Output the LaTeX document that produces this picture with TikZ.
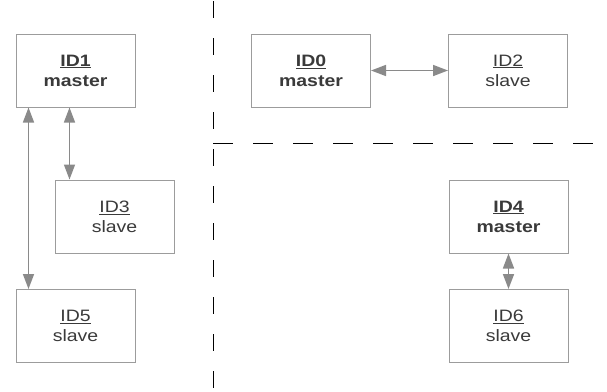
\documentclass[tikz,border=0pt]{standalone}
\usepackage{fontspec}
\setmainfont{Liberation Sans}[FakeStretch=1.18]
\usetikzlibrary{arrows.meta}
\definecolor{boxline}{HTML}{9C9C9C}
\definecolor{arrowgray}{HTML}{8A8A8A}
\definecolor{txt}{HTML}{3A3A3A}
\tikzset{
  unit/.style={draw=boxline, line width=1pt, minimum width=119pt, minimum height=73pt,
    inner sep=0pt, align=center, text=txt, font=\fontsize{16.5}{20}\selectfont},
  link/.style={draw=arrowgray, line width=1.6pt, {Triangle[length=15pt,width=11pt]}-{Triangle[length=15pt,width=11pt]}},
  divider/.style={line width=1pt, draw=black}
}
\begin{document}
\begin{tikzpicture}[x=1pt,y=-1pt]
\useasboundingbox (0,0) rectangle (607,391);
\node[unit] (ID1) at (75.5,70.5) {\textbf{\underline{ID1}}\\\textbf{master}};
\node[unit] (ID3) at (114.5,216.5) {\underline{ID3}\\slave};
\node[unit] (ID5) at (75.5,326) {\underline{ID5}\\slave};
\node[unit] (ID0) at (311,70.5) {\textbf{\underline{ID0}}\\\textbf{master}};
\node[unit] (ID2) at (508,70.5) {\underline{ID2}\\slave};
\node[unit] (ID4) at (508.5,216.5) {\textbf{\underline{ID4}}\\\textbf{master}};
\node[unit] (ID6) at (508.5,326) {\underline{ID6}\\slave};
\draw[link] ([xshift=13pt]ID1.south west) -- ([xshift=13pt]ID5.north west);
\draw[link] ([xshift=54pt]ID1.south west) -- ([xshift=54pt]ID1.south west |- ID3.north);
\draw[link] (ID0.east) -- (ID2.west);
\draw[link] (ID4.south) -- (ID6.north);
\coordinate (vtop) at (213,0);
\coordinate (vbot) at (213,391);
\coordinate (hleft) at (213,143);
\coordinate (hright) at (607,143);
\draw[divider, dash pattern=on 17pt off 20pt, dash phase=-1pt] (vtop) -- (vbot);
\draw[divider, dash pattern=on 20pt off 20pt] (hleft) -- (hright);
\end{tikzpicture}
\end{document}
